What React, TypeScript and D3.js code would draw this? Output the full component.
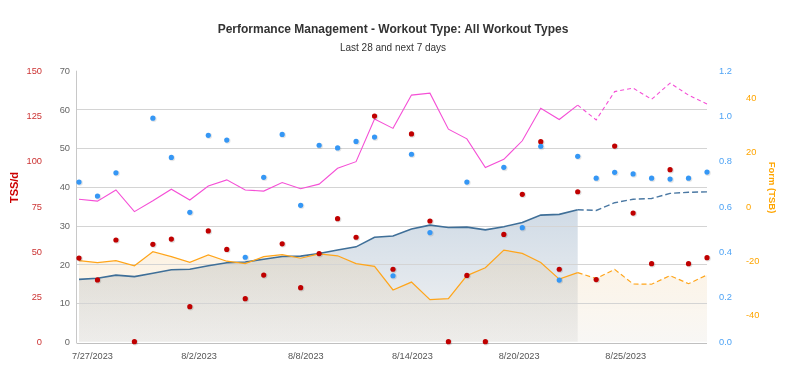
import * as d3 from 'd3';

// 35 days: 7/27/2023 .. 8/30/2023, index 27 (8/23) is today, the rest is planned
const startDate = new Date(2023, 6, 27);
const todayIndex = 27;

// Fitness (CTL), Fatigue (ATL) on the 0-70 axis
const ctl = [16.1, 16.4, 17.2, 16.8, 17.7, 18.6, 18.7, 19.6, 20.4, 20.6, 21.3, 22.0, 22.1, 22.8, 23.7, 24.5, 27.0, 27.3, 29.1, 30.1, 29.5, 29.6, 28.9, 29.7, 30.8, 32.7, 32.9, 34.1, 33.9, 35.9, 36.8, 37.0, 38.3, 38.6, 38.7];
const atl = [36.8, 36.3, 39.2, 33.6, 36.4, 39.4, 36.6, 40.2, 41.8, 39.2, 38.9, 41.1, 39.5, 40.7, 44.8, 46.5, 57.5, 55.1, 63.7, 64.2, 54.9, 52.4, 45.0, 47.1, 51.9, 60.3, 57.4, 61.1, 57.3, 64.6, 65.5, 62.6, 66.8, 63.7, 61.4];
// Form (TSB) on the right -50..50 axis
const tsb = [-20.1, -20.8, -20.1, -22.0, -16.8, -18.6, -20.7, -18.0, -20.3, -21.2, -18.6, -17.9, -19.2, -17.6, -18.3, -21.2, -22.2, -30.9, -28.0, -34.5, -34.1, -25.6, -22.7, -16.2, -17.4, -20.8, -26.9, -24.5, -26.7, -23.3, -28.7, -28.8, -25.6, -28.6, -25.4];
// daily TSS (red dots) and IF (blue dots)
const tss = [46.3, 34.2, 56.3, 0, 53.9, 56.8, 19.4, 61.3, 51.1, 23.8, 36.9, 54.2, 29.9, 48.7, 68.1, 57.8, 124.9, 40.1, 115.0, 66.8, 0, 36.7, 0, 59.4, 81.6, 110.7, 40.1, 83.0, 34.4, 108.3, 71.2, 43.2, 95.2, 43.2, 46.5];
const intensity = [0.707, 0.645, 0.748, null, 0.99, 0.816, 0.573, 0.914, 0.893, 0.374, 0.728, 0.918, 0.604, 0.87, 0.858, 0.887, 0.906, 0.292, 0.83, 0.483, null, 0.707, null, 0.772, 0.505, 0.865, 0.273, 0.821, 0.724, 0.75, 0.743, 0.724, 0.72, 0.724, 0.751];

const loadTicks = [0, 10, 20, 30, 40, 50, 60, 70];
const tssTicks = [0, 25, 50, 75, 100, 125, 150];
const ifTicks = [0, 0.2, 0.4, 0.6, 0.8, 1.0, 1.2];
const formTicks = [-40, -20, 0, 20, 40];
const xTickLabels = ['7/27/2023', '8/2/2023', '8/8/2023', '8/14/2023', '8/20/2023', '8/25/2023'];
const xTickAt = [0.73, 6.5, 12.28, 18.05, 23.83, 29.6];

const font = '"Liberation Sans", Arial, Helvetica, sans-serif';
const plotLeft = 77;
const plotRight = 707;
const plotTop = 70.7;
const plotBottom = 341.7;

export default function App() {
  const days = d3.range(ctl.length);
  const past = days.slice(0, todayIndex + 1);
  const future = days.slice(todayIndex);

  const x = d3.scaleLinear().domain([0, days.length - 1]).range([79, plotRight]);
  const yLoad = d3.scaleLinear().domain([0, 70]).range([plotBottom, plotTop]);
  const yTss = d3.scaleLinear().domain([0, 150]).range([plotBottom, plotTop]);
  const yIf = d3.scaleLinear().domain([0, 1.2]).range([plotBottom, plotTop]);
  const yForm = d3.scaleLinear().domain([-50, 50]).range([plotBottom, plotTop]);

  const lineOf = (vals: number[], y: d3.ScaleLinear<number, number>) =>
    d3.line<number>().x((i) => x(i)).y((i) => y(vals[i]));
  const areaOf = (vals: number[], y: d3.ScaleLinear<number, number>) =>
    d3.area<number>().x((i) => x(i)).y0(plotBottom).y1((i) => y(vals[i]));

  const ctlLine = lineOf(ctl, yLoad);
  const atlLine = lineOf(atl, yLoad);
  const tsbLine = lineOf(tsb, yForm);

  const ctlTop = yLoad(d3.max(past, (i) => ctl[i]) as number);
  const tsbTop = yForm(d3.max(days, (i) => tsb[i]) as number);
  const cx = 393;

  return (
    <div style={{ position: 'fixed', left: 0, top: 0 }}>
      <svg width={808} height={388} style={{ display: 'block', fontFamily: font }}>
        <defs>
          <linearGradient id="ctlFill" gradientUnits="userSpaceOnUse" x1="0" x2="0" y1={ctlTop} y2={plotBottom}>
            <stop offset="0" stopColor="#d0dbe6" />
            <stop offset="1" stopColor="#f3f3f3" />
          </linearGradient>
          <linearGradient id="tsbFill" gradientUnits="userSpaceOnUse" x1="0" x2="0" y1={tsbTop} y2={plotBottom}>
            <stop offset="0" stopColor="rgb(240,160,40)" stopOpacity={0.13} />
            <stop offset="1" stopColor="rgb(200,190,170)" stopOpacity={0.12} />
          </linearGradient>
        </defs>

        <text x={cx} y={33.3} textAnchor="middle" fontSize={12} fontWeight="bold" fill="#333">
          Performance Management - Workout Type: All Workout Types
        </text>
        <text x={cx} y={51.3} textAnchor="middle" fontSize={10} fill="#333">
          Last 28 and next 7 days
        </text>

        <path d={areaOf(ctl, yLoad)(past) ?? ''} fill="url(#ctlFill)" />
        <path d={areaOf(tsb, yForm)(days) ?? ''} fill="url(#tsbFill)" />

        {loadTicks.filter((t) => t > 0 && t < 70).map((t) => (
          <line key={t} x1={plotLeft} x2={plotRight} y1={Math.round(yLoad(t)) + 0.5} y2={Math.round(yLoad(t)) + 0.5} stroke="#d4d4d4" />
        ))}

        <line x1={plotLeft - 0.5} x2={plotLeft - 0.5} y1={plotTop} y2={343.5} stroke="#c8c8c8" />
        <line x1={plotLeft} x2={plotRight} y1={343.5} y2={343.5} stroke="#c0c0c0" />

        <path d={ctlLine(past) ?? ''} fill="none" stroke="#3f6f98" strokeWidth={1.6} />
        <path d={ctlLine(future) ?? ''} fill="none" stroke="#4a78a3" strokeWidth={1.4} strokeDasharray="6,3" />
        <path d={atlLine(past) ?? ''} fill="none" stroke="#f54fd6" strokeWidth={1.1} />
        <path d={atlLine(future) ?? ''} fill="none" stroke="#f54fd6" strokeWidth={1.1} strokeDasharray="4,3" />
        <path d={tsbLine(past) ?? ''} fill="none" stroke="#ffa51a" strokeWidth={1.2} />
        <path d={tsbLine(future) ?? ''} fill="none" stroke="#ffa51a" strokeWidth={1.2} strokeDasharray="5,3" />

        {days.map((i) => (
          <g key={'t' + i}>
            <circle cx={x(i) + 0.8} cy={yTss(tss[i]) + 0.8} r={3} fill="#000" opacity={0.12} />
            <circle cx={x(i)} cy={yTss(tss[i])} r={2.6} fill="#c00000" />
          </g>
        ))}
        {days.filter((i) => intensity[i] != null).map((i) => (
          <g key={'i' + i}>
            <circle cx={x(i) + 0.8} cy={yIf(intensity[i] as number) + 0.8} r={3} fill="#000" opacity={0.1} />
            <circle cx={x(i)} cy={yIf(intensity[i] as number)} r={2.6} fill="#3597f5" />
          </g>
        ))}

        {loadTicks.map((t) => (
          <text key={'l' + t} x={70} y={yLoad(t) + 3.3} textAnchor="end" fontSize={9.3} fill="#666">{t}</text>
        ))}
        {tssTicks.map((t) => (
          <text key={'s' + t} x={42} y={yTss(t) + 3.3} textAnchor="end" fontSize={9.3} fill="#cc3333">{t}</text>
        ))}
        {ifTicks.map((t) => (
          <text key={'f' + t} x={719} y={yIf(t) + 3.3} fontSize={9.3} fill="#4ea3f5">{d3.format('.1f')(t)}</text>
        ))}
        {formTicks.map((t) => (
          <text key={'b' + t} x={746} y={yForm(t) + 3.3} fontSize={9.3} fill="#ffa500">{t}</text>
        ))}
        {xTickLabels.map((label, k) => (
          <text key={label} x={x(xTickAt[k])} y={359} textAnchor="middle" fontSize={9.2} fill="#555">{label}</text>
        ))}

        <text transform="translate(18,187.5) rotate(-90)" textAnchor="middle" fontSize={11} fontWeight="bold" fill="#cc0000">TSS/d</text>
        <text transform="translate(768.5,187.5) rotate(90)" textAnchor="middle" fontSize={9.5} fontWeight="bold" fill="#ffa500">Form (TSB)</text>
      </svg>
    </div>
  );
}
